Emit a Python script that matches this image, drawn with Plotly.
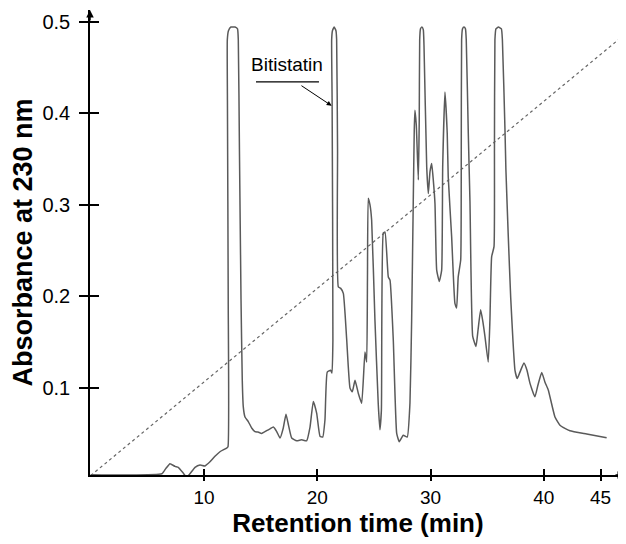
import plotly.graph_objects as go

# Chromatogram trace (retention time in min, absorbance at 230 nm)
time_min = [0.00, 6.29, 6.65, 7.00, 7.44, 7.73, 8.15, 8.47, 8.76, 9.21, 9.65, 10.09, 10.53, 10.97, 11.41,
            12.00, 12.12, 12.14, 12.07, 12.06, 12.16, 12.38, 12.74, 12.96, 13.03, 13.13, 13.27, 13.38, 13.47,
            13.62, 13.91, 14.21, 14.50, 14.77, 15.09, 15.53, 15.83, 16.12, 16.42, 16.71, 17.00, 17.24, 17.46,
            17.74, 18.18, 18.62, 19.06, 19.36, 19.65, 19.95, 20.24, 20.48, 20.68, 20.88, 21.18, 21.30, 21.38,
            21.31, 21.27, 21.34, 21.49, 21.65, 21.71, 21.79, 21.86, 22.07, 22.30, 22.59, 22.89, 23.09, 23.33,
            23.62, 23.92, 24.21, 24.36, 24.43, 24.50, 24.65, 24.80, 25.09, 25.38, 25.53, 25.66, 25.83, 25.98,
            26.27, 26.42, 26.71, 27.01, 27.24, 27.59, 27.94, 28.18, 28.33, 28.47, 28.56, 28.62, 28.74, 28.92,
            29.00, 29.04, 29.11, 29.24, 29.36, 29.42, 29.66, 29.80, 29.95, 30.10, 30.24, 30.39, 30.54, 30.77,
            30.98, 31.07, 31.27, 31.47, 31.56, 31.86, 32.15, 32.30, 32.44, 32.66, 32.71, 32.74, 32.82, 32.95,
            33.08, 33.15, 33.33, 33.48, 33.72, 34.01, 34.19, 34.42, 34.62, 34.80, 35.09, 35.24, 35.39, 35.60,
            35.64, 35.68, 35.77, 35.99, 36.25, 36.34, 36.57, 36.65, 36.86, 37.07, 37.27, 37.45, 37.65, 37.89,
            38.24, 38.51, 38.77, 39.21, 39.48, 39.81, 40.10, 40.39, 40.98, 41.42, 41.86, 42.30, 43.78, 45.54]
absorbance = [0.005, 0.006, 0.012, 0.017, 0.014, 0.013, 0.007, 0.002, 0.006, 0.013, 0.0155, 0.0145, 0.019, 0.025, 0.030,
              0.034, 0.0355, 0.196, 0.414, 0.480, 0.490, 0.494, 0.494, 0.492, 0.480, 0.360, 0.196, 0.108, 0.079,
              0.068, 0.063, 0.056, 0.052, 0.0515, 0.050, 0.053, 0.055, 0.057, 0.052, 0.045, 0.056, 0.071, 0.059,
              0.045, 0.042, 0.043, 0.042, 0.057, 0.085, 0.072, 0.047, 0.046, 0.065, 0.117, 0.119, 0.116, 0.152,
              0.414, 0.480, 0.490, 0.494, 0.490, 0.480, 0.360, 0.210, 0.2085, 0.203, 0.154, 0.0995, 0.0955, 0.108,
              0.094, 0.083, 0.139, 0.128, 0.218, 0.307, 0.300, 0.283, 0.174, 0.083, 0.054, 0.0756, 0.269, 0.270,
              0.221, 0.2175, 0.152, 0.050, 0.041, 0.048, 0.046, 0.083, 0.174, 0.301, 0.381, 0.403, 0.387, 0.327,
              0.392, 0.480, 0.492, 0.494, 0.491, 0.474, 0.341, 0.312, 0.336, 0.345, 0.327, 0.301, 0.2285, 0.216,
              0.2285, 0.341, 0.423, 0.378, 0.330, 0.265, 0.192, 0.187, 0.221, 0.2395, 0.360, 0.480, 0.492, 0.494,
              0.492, 0.480, 0.378, 0.302, 0.156, 0.145, 0.163, 0.185, 0.172, 0.156, 0.128, 0.174, 0.243, 0.254,
              0.360, 0.480, 0.492, 0.494, 0.492, 0.480, 0.381, 0.338, 0.265, 0.199, 0.152, 0.119, 0.110, 0.117,
              0.127, 0.119, 0.105, 0.090, 0.103, 0.1166, 0.106, 0.0975, 0.068, 0.059, 0.0556, 0.053, 0.0494, 0.0453]

# Elution gradient (dotted line), drawn on the absorbance scale
gradient_time = [0.0, 47.25]
gradient_level = [0.004, 0.487]

x_tick_vals = [10, 20, 30, 40, 45]
x_tick_text = ["10", "20", "30", "40", "45"]
y_tick_vals = [0.1, 0.2, 0.3, 0.4, 0.5]
y_tick_text = ["0.1", "0.2", "0.3", "0.4", "0.5"]

label_text = "Bitistatin"
label_pos = (17.37, 0.4535)
underline_span = (14.59, 20.15, 0.434)
arrow_tail = (18.47, 0.431)
arrow_head = (21.27, 0.408)

x_range = [-0.06, 47.25]
y_range = [0.0046, 0.5126]

FONT = "Arial, Liberation Sans, sans-serif"

fig = go.Figure()
fig.add_trace(go.Scatter(x=gradient_time, y=gradient_level, mode="lines",
                         line=dict(color="#666666", width=1.2, dash="dot"),
                         hoverinfo="skip", showlegend=False))
fig.add_trace(go.Scatter(x=time_min, y=absorbance, mode="lines",
                         line=dict(color="#5a5a5a", width=1.5, shape="spline", smoothing=0.4),
                         showlegend=False))

# Inside-tick companion axes (ticks cross the axis lines)
fig.add_trace(go.Scatter(x=[None], y=[None], xaxis="x2", yaxis="y2", showlegend=False, hoverinfo="skip"))

# The page body adds an 8 px offset, so the figure is sized to fit the window exactly
fig.update_layout(
    width=618, height=536,
    margin=dict(l=82, r=0, t=2, b=69),
    plot_bgcolor="white", paper_bgcolor="white",
    font=dict(family=FONT, color="black"),
    xaxis=dict(range=x_range, tickvals=x_tick_vals, ticktext=x_tick_text, automargin=False,
               showgrid=False, zeroline=False, showline=True, linecolor="black", linewidth=1.5,
               ticks="outside", ticklen=4, tickwidth=1.5, tickcolor="black",
               tickfont=dict(size=19, family=FONT),
               title=dict(text="<b>Retention time (min)</b>", font=dict(size=26, family=FONT), standoff=2)),
    yaxis=dict(range=y_range, tickvals=y_tick_vals, ticktext=y_tick_text, automargin=False,
               showgrid=False, zeroline=False, showline=True, linecolor="black", linewidth=1.5,
               ticks="outside", ticklen=9, tickwidth=1.5, tickcolor="black",
               tickfont=dict(size=20, family=FONT), ticklabelstandoff=5,
               title=dict(text="<b>Absorbance at 230 nm</b>", font=dict(size=27, family=FONT), standoff=8)),
    xaxis2=dict(range=x_range, overlaying="x", side="bottom", tickvals=x_tick_vals, showticklabels=False,
                showgrid=False, zeroline=False, showline=False, automargin=False,
                ticks="inside", ticklen=6, tickwidth=1.5, tickcolor="black"),
    yaxis2=dict(range=y_range, overlaying="y", side="left", tickvals=y_tick_vals, showticklabels=False,
                showgrid=False, zeroline=False, showline=False, automargin=False,
                ticks="inside", ticklen=9, tickwidth=1.5, tickcolor="black"),
)

# Axis arrowheads
fig.add_annotation(xref="paper", yref="paper", x=0, y=1.0, ax=0, ay=12, axref="pixel", ayref="pixel",
                   text="", showarrow=True, arrowhead=2, arrowsize=1, arrowwidth=1.5, arrowcolor="black")
fig.add_annotation(xref="paper", yref="paper", x=1.0, y=0, ax=-12, ay=0,
                   text="", showarrow=True, arrowhead=2, arrowsize=1, arrowwidth=1.5, arrowcolor="black")

# Bitistatin label
fig.add_annotation(x=label_pos[0], y=label_pos[1], text=label_text, showarrow=False,
                   font=dict(size=19, family=FONT, color="black"))
fig.add_shape(type="line", x0=underline_span[0], x1=underline_span[1], y0=underline_span[2], y1=underline_span[2],
              line=dict(color="black", width=1.2))
fig.add_annotation(x=arrow_head[0], y=arrow_head[1], ax=arrow_tail[0], ay=arrow_tail[1],
                   axref="x", ayref="y", text="", showarrow=True, arrowhead=2, arrowsize=1,
                   arrowwidth=1, arrowcolor="black")

fig.write_html("out.html")
